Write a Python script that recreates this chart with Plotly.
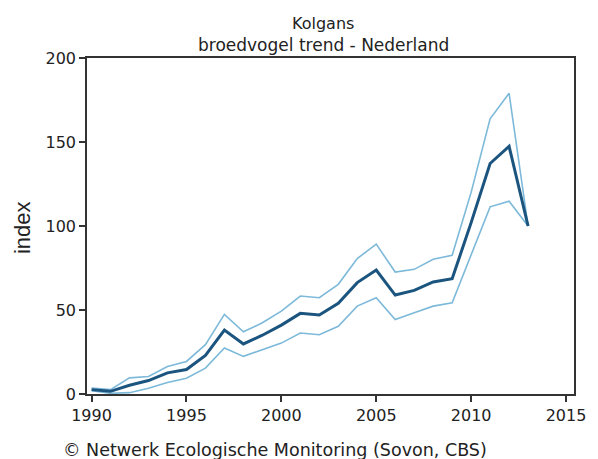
import plotly.graph_objects as go

years = list(range(1990, 2014))
index_mid = [2.6, 1.6, 5.2, 8.0, 12.6, 14.6, 23.0, 38.0, 29.8, 35.0, 41.0, 48.0, 47.0, 54.0, 66.3, 73.8,
             58.9, 61.7, 66.7, 68.6, 102.0, 137.2, 147.4, 100.0]
index_upper = [3.6, 2.6, 9.6, 10.4, 16.4, 19.4, 29.4, 47.4, 37.0, 42.4, 49.3, 58.3, 57.3, 65.3, 80.6, 89.2,
               72.6, 74.2, 80.2, 82.6, 120.0, 163.8, 179.0, 100.0]
index_lower = [2.0, 0.4, 0.8, 3.4, 6.8, 9.4, 15.4, 27.4, 22.4, 26.4, 30.3, 36.3, 35.3, 40.3, 52.3, 57.3,
               44.3, 48.3, 52.3, 54.3, 83.4, 111.4, 114.8, 100.0]

x_ticks = [1990, 1995, 2000, 2005, 2010, 2015]
y_ticks = [0, 50, 100, 150, 200]

light = "#7db9d9"
dark = "#1b557f"
axcol = "#333333"
txtcol = "#222222"
font = "DejaVu Sans"

fig = go.Figure()
fig.add_trace(go.Scatter(x=years, y=index_upper, mode="lines", line=dict(color=light, width=1.6), hoverinfo="skip"))
fig.add_trace(go.Scatter(x=years, y=index_lower, mode="lines", line=dict(color=light, width=1.6), hoverinfo="skip"))
fig.add_trace(go.Scatter(x=years, y=index_mid, mode="lines", line=dict(color=dark, width=3)))

fig.update_layout(
    width=590, height=451,
    margin=dict(l=79, r=16, t=50, b=65),
    paper_bgcolor="white", plot_bgcolor="white",
    showlegend=False,
    font=dict(family=font, color=txtcol, size=16),
)
fig.update_xaxes(range=[1989.76, 2015.42], tickvals=x_ticks, ticks="outside", ticklen=6, tickwidth=1.5,
                 tickcolor=axcol, showline=True, linecolor=axcol, linewidth=1.5, mirror=True,
                 showgrid=False, zeroline=False, tickfont=dict(size=16))
fig.update_yaxes(range=[0, 200], tickvals=y_ticks, ticks="outside", ticklen=6, tickwidth=1.5,
                 tickcolor=axcol, showline=True, linecolor=axcol, linewidth=1.5, mirror=True,
                 showgrid=False, zeroline=False, tickfont=dict(size=16))

fig.add_annotation(text="Kolgans", xref="paper", yref="paper", x=0.485, y=1.104,
                   xanchor="center", yanchor="middle", showarrow=False,
                   font=dict(family=font, size=16, color=txtcol))
fig.add_annotation(text="broedvogel trend - Nederland", xref="paper", yref="paper", x=0.485, y=1.0387,
                   xanchor="center", yanchor="middle", showarrow=False,
                   font=dict(family=font, size=17, color=txtcol))
fig.add_annotation(text="index", xref="paper", yref="paper", x=-0.1333, y=0.494, textangle=-90,
                   xanchor="center", yanchor="middle", showarrow=False, borderpad=0,
                   font=dict(family="Liberation Sans", size=22, color=txtcol))
fig.add_annotation(text="© Netwerk Ecologische Monitoring (Sovon, CBS)", xref="paper", yref="paper",
                   x=-0.0525, y=-0.1667, xanchor="left", yanchor="middle", showarrow=False,
                   font=dict(family=font, size=17.5, color=txtcol))

fig.write_html("out.html")
